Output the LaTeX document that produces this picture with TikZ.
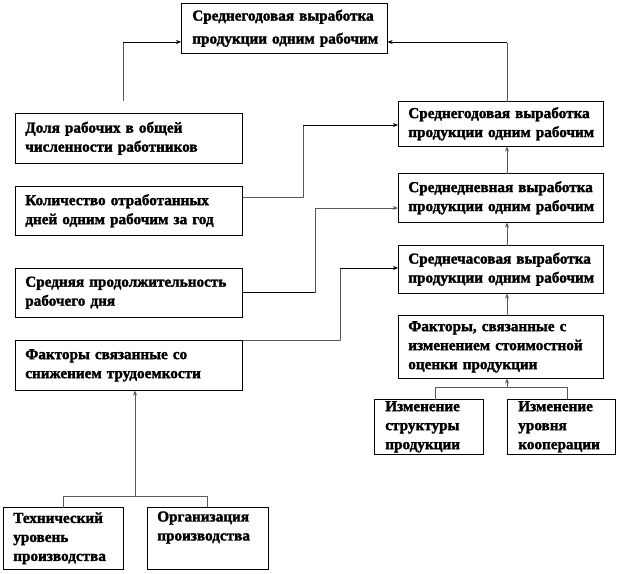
\documentclass[tikz,border=0pt]{standalone}
\usepackage{fontspec}
\setmainfont{Liberation Serif}
\newfontfamily\heavy[FakeBold=1.8]{Liberation Serif Bold}
\usetikzlibrary{arrows.meta,calc}
\begin{document}
\begin{tikzpicture}[x=1pt,y=-1pt,
  box/.style={draw=black,line width=0.6pt,anchor=north west,inner xsep=10pt,inner ysep=0pt,
    align=left,font=\fontsize{15.2}{19}\selectfont\heavy,fill=white},
  dots/.style={line width=0.8pt,dash pattern=on 0.5pt off 0.5pt,black!65},
  sol/.style={line width=0.6pt,black},
  tip/.style={-{Stealth[length=5pt,width=4pt]}}]
\useasboundingbox (0,0) rectangle (618,573);
% nodes
\node[box,text width=184pt,minimum height=50pt,inner xsep=11pt,font=\fontsize{15.2}{23}\selectfont\heavy] (T) at (181,3) {\mbox{Среднегодовая выработка}\\\mbox{продукции одним рабочим}};
\node[box,text width=185pt,minimum height=45pt] (R1) at (398,101) {\mbox{Среднегодовая выработка}\\\mbox{продукции одним рабочим}};
\node[box,text width=185pt,minimum height=49pt] (R2) at (398,173) {\mbox{Среднедневная выработка}\\\mbox{продукции одним рабочим}};
\node[box,text width=185pt,minimum height=48pt] (R3) at (398,245) {\mbox{Среднечасовая выработка}\\\mbox{продукции одним рабочим}};
\node[box,text width=185pt,minimum height=63pt] (R4) at (398,315) {\mbox{Факторы, связанные с}\\\mbox{изменением стоимостной}\\\mbox{оценки продукции}};
\node[box,text width=87pt,minimum height=55pt,inner xsep=11pt] (C1) at (374,399) {Изменение\\структуры\\продукции};
\node[box,text width=86pt,minimum height=55pt,inner xsep=11pt] (C2) at (507,399) {Изменение\\уровня\\кооперации};
\node[box,text width=207pt,minimum height=50pt] (L1) at (15,113) {\mbox{Доля рабочих в общей}\\\mbox{численности работников}};
\node[box,text width=207pt,minimum height=49pt] (L2) at (15,186) {\mbox{Количество отработанных}\\\mbox{дней одним рабочим за год}};
\node[box,text width=207pt,minimum height=49pt] (L3) at (15,268) {\mbox{Средняя продолжительность}\\\mbox{рабочего дня}};
\node[box,text width=207pt,minimum height=50pt] (L4) at (15,340) {\mbox{Факторы связанные со}\\\mbox{снижением трудоемкости}};
\node[box,text width=100pt,minimum height=62pt] (B1) at (3,507) {Технический\\уровень\\производства};
\node[box,text width=101pt,minimum height=62pt] (B2) at (147,507) {Организация\\производства\\\strut};
% coordinates
\coordinate (tl) at (123,100);
\coordinate (a1) at (123,42);
\coordinate (a2) at (507,42);
\coordinate (r1t) at (R1.north -| a2);
\coordinate (k1) at (303,197);
\coordinate (k2) at (303,125);
\coordinate (s1) at (315,292);
\coordinate (s2) at (315,208);
\coordinate (f1) at (340,340);
\coordinate (f2) at (340,268);
\coordinate (rx) at (507,0);
\coordinate (c1) at (435,387);
\coordinate (c2) at (567,387);
\coordinate (cm) at (507,387);
\coordinate (b1) at (63,496);
\coordinate (b2) at (207,496);
\coordinate (bm) at (135,496);
% connectors to top box
\draw[dots] (tl) -- (a1);
\draw[sol,tip] (a1) -- (a1 -| T.west);
\draw[dots] (r1t) -- (a2);
\draw[sol,tip] (a2) -- (a2 -| T.east);
% left to right
\draw[dots] (L2.east |- k1) -- (k1) -- (k2);
\draw[sol,tip] (k2) -- (k2 -| R1.west);
\draw[sol] (L3.east |- s1) -- (s1);
\draw[dots,tip] (s1) -- (s2) -- (s2 -| R2.west);
\draw[dots] (L4.north east) -- (f1) -- (f2);
\draw[sol,tip] (f2) -- (f2 -| R3.west);
% right column
\draw[dots,tip] (R2.north -| rx) -- (R1.south -| rx);
\draw[dots,tip] (R3.north -| rx) -- (R2.south -| rx);
\draw[dots,tip] (R4.north -| rx) -- (R3.south -| rx);
\draw[dots] (C1.north -| c1) -- (c1) -- (c2) -- (C2.north -| c2);
\draw[dots,tip] (cm) -- (R4.south -| cm);
% bottom left
\draw[dots] (B1.north -| b1) -- (b1) -- (b2) -- (B2.north -| b2);
\draw[dots,tip] (bm) -- (L4.south -| bm);
\end{tikzpicture}
\end{document}
